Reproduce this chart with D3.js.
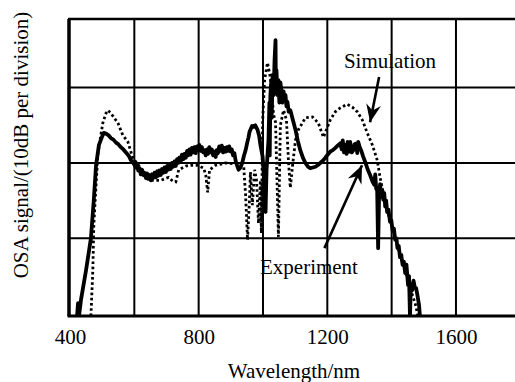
<!DOCTYPE html>
<html>
<head>
<meta charset="utf-8">
<script src="https://cdn.jsdelivr.net/npm/d3@7"></script>
<style>
  html, body { margin: 0; padding: 0; background: #fff; }
  svg { display: block; }
  text { font-family: "Liberation Serif", "Times New Roman", serif; fill: #000; }
</style>
</head>
<body>
<svg id="chart" width="515" height="382"></svg>
<script>
// Axis ticks and reference levels
const wavelengthTicks = [400, 800, 1200, 1600];
const gridWavelengths = [600, 800, 1000, 1200, 1400, 1600, 1800];
const gridLevels = [-30, -20, -10];

// Measured spectrum (wavelength in nm, level in dB)
const experimentNm = [422,425,428,434,450,465,474,481,490,499,505,512,519,527,535,543,550,558,566,574,582,589,597,605,609,612,616,620,624,628,632,636,640,643,647,651,655,659,663,667,671,674,678,682,686,690,694,698,702,705,709,713,717,721,725,729,733,736,740,744,748,752,756,760,764,767,771,775,779,783,787,791,795,798,802,806,810,814,818,822,826,829,833,837,841,845,849,853,856,860,864,868,872,876,880,884,888,891,895,899,903,907,911,915,920,924,930,936,941,946,951,955,958,961,966,971,976,983,988,992,999,1005,1008,1011,1014,1017,1020,1021,1023,1026,1027,1030,1033,1036,1039,1040,1042,1045,1048,1051,1054,1057,1060,1064,1067,1070,1073,1076,1080,1085,1093,1101,1108,1116,1124,1132,1140,1147,1155,1163,1170,1178,1186,1194,1201,1209,1217,1225,1232,1240,1245,1248,1252,1256,1260,1263,1267,1271,1276,1281,1285,1290,1293,1296,1300,1305,1311,1318,1325,1333,1340,1346,1349,1352,1355,1358,1361,1364,1368,1371,1374,1377,1380,1383,1386,1390,1395,1399,1403,1407,1411,1415,1418,1422,1426,1430,1434,1438,1442,1446,1451,1454,1457,1460,1464,1468,1472,1476,1480,1485,1488];
const experimentDb = [-40.3,-38.6,-40.3,-38.2,-34.2,-30.0,-24.9,-20.3,-17.6,-16.6,-16.0,-16.1,-16.3,-16.7,-16.9,-17.3,-17.5,-17.9,-18.2,-18.6,-19.0,-19.6,-20.0,-20.6,-20.2,-21.0,-20.7,-21.5,-20.9,-21.6,-21.3,-22.0,-21.4,-22.1,-21.6,-22.3,-21.5,-22.0,-21.3,-21.9,-21.1,-21.7,-21.0,-21.6,-20.8,-21.3,-20.6,-21.2,-20.4,-20.9,-20.2,-20.8,-20.0,-20.5,-19.8,-20.4,-19.5,-20.0,-19.3,-19.8,-18.9,-19.5,-18.8,-19.3,-18.4,-19.0,-18.2,-18.9,-18.0,-18.6,-17.9,-18.7,-17.8,-18.3,-17.6,-18.4,-17.9,-18.6,-18.3,-19.0,-18.2,-18.8,-17.9,-18.6,-18.2,-19.0,-18.5,-19.2,-18.3,-18.7,-17.8,-18.4,-17.7,-18.6,-18.0,-18.5,-17.9,-18.4,-17.8,-18.5,-18.2,-19.0,-18.7,-19.7,-20.4,-20.9,-20.6,-19.9,-19.0,-18.3,-17.3,-16.6,-15.9,-15.6,-15.1,-15.2,-15.0,-15.6,-16.4,-17.6,-19.2,-23.6,-26.5,-20.9,-19.0,-17.0,-12.0,-19.0,-11.0,-9.0,-14.0,-8.3,-11.0,-6.3,-3.7,-10.0,-7.7,-11.0,-9.0,-12.0,-9.3,-10.3,-12.0,-10.5,-11.5,-11.0,-12.5,-11.9,-13.2,-13.0,-14.3,-15.6,-17.0,-18.3,-19.3,-20.0,-20.5,-20.7,-20.6,-20.5,-20.3,-20.0,-19.7,-19.3,-18.9,-18.5,-18.3,-18.0,-17.7,-17.4,-18.2,-17.0,-18.6,-17.6,-18.8,-17.2,-18.5,-17.2,-18.6,-18.3,-17.5,-17.4,-18.7,-17.2,-17.8,-18.3,-19.1,-19.9,-20.8,-21.6,-22.4,-22.9,-21.5,-23.4,-23.6,-31.3,-24.2,-22.8,-24.5,-23.6,-24.9,-24.0,-25.8,-25.0,-26.5,-26.2,-27.8,-27.6,-29.0,-28.7,-30.2,-30.0,-31.3,-31.0,-32.5,-32.2,-33.5,-33.1,-34.6,-33.5,-36.2,-35.0,-40.3,-36.0,-36.9,-35.6,-36.5,-36.6,-37.5,-38.8,-40.3];

// Simulated spectrum (wavelength in nm, level in dB)
const simulationNm = [465,471,474,481,487,502,512,518,527,549,564,580,595,620,636,651,682,707,719,729,738,760,775,797,816,822,828,834,853,884,915,940,946,952,958,961,967,974,980,986,992,995,999,1005,1014,1023,1033,1039,1048,1054,1064,1073,1079,1085,1092,1101,1110,1132,1154,1172,1188,1209,1225,1240,1262,1278,1293,1309,1324,1340,1355,1364,1374,1386,1395,1411,1426,1442,1457,1473,1482];
const simulationDb = [-40.3,-34.2,-28.2,-22.9,-18.7,-14.7,-13.4,-13.0,-13.4,-14.7,-16.3,-17.2,-19.3,-20.7,-21.7,-22.3,-22.3,-21.9,-22.4,-22.5,-20.9,-20.4,-20.3,-20.3,-20.7,-21.6,-23.9,-20.9,-20.3,-20.0,-20.1,-20.4,-24.3,-30.2,-24.9,-21.2,-25.6,-20.9,-22.3,-28.0,-22.3,-29.3,-14.3,-9.0,-6.7,-8.7,-13.6,-14.6,-29.8,-15.0,-13.0,-14.3,-19.6,-23.3,-20.3,-17.0,-15.6,-14.0,-13.9,-14.7,-16.6,-14.3,-13.2,-12.7,-12.2,-12.6,-13.2,-14.3,-16.0,-17.6,-19.6,-21.9,-24.0,-26.2,-27.6,-29.8,-32.2,-34.2,-36.6,-38.6,-40.3];

// Callout labels: text, label anchor and arrow (from -> tip), in data units
const calloutText = ["Simulation", "Experiment"];
const calloutLabelNm = [1395, 1143];
const calloutLabelDb = [-7.4, -34.7];
const arrowFromNm = [1361, 1191];
const arrowFromDb = [-8.6, -31.3];
const arrowTipNm = [1333, 1308];
const arrowTipDb = [-14.6, -20.3];

const svg = d3.select("#chart");
const W = 515, H = 382;

const x = d3.scaleLinear().domain([400, 1800]).range([70, 520.3]);
const y = d3.scaleLinear().domain([-40.3, -0.9]).range([316, 19]);

const plotLeft = x(400) - 1, plotRight = x(1800), plotTop = y(-0.9), plotBottom = y(-40.3);

svg.append("rect").attr("width", W).attr("height", H).attr("fill", "#fff");

// Grid
const grid = svg.append("g").attr("stroke", "#000").attr("stroke-width", 2);
grid.selectAll("line.v").data(gridWavelengths).join("line")
  .attr("x1", d => x(d)).attr("x2", d => x(d))
  .attr("y1", plotTop).attr("y2", plotBottom);
grid.selectAll("line.h").data(gridLevels).join("line")
  .attr("x1", plotLeft).attr("x2", plotRight)
  .attr("y1", d => y(d)).attr("y2", d => y(d));

// Curves
svg.append("clipPath").attr("id", "plotClip").append("rect")
  .attr("x", plotLeft).attr("y", plotTop)
  .attr("width", plotRight - plotLeft).attr("height", plotBottom - plotTop);

const line = d3.line().x(d => x(d[0])).y(d => y(d[1]));
const simPts = simulationNm.map((n, i) => [n, simulationDb[i]]);
const expPts = experimentNm.map((n, i) => [n, experimentDb[i]]);

const curves = svg.append("g").attr("clip-path", "url(#plotClip)");
curves.append("path").datum(simPts)
  .attr("d", line).attr("fill", "none").attr("stroke", "#000")
  .attr("stroke-width", 2.8).attr("stroke-dasharray", "2.6,2.6");
curves.append("path").datum(expPts)
  .attr("d", line).attr("fill", "none").attr("stroke", "#000")
  .attr("stroke-width", 3.8).attr("stroke-linejoin", "round");

// Frame
const frame = svg.append("g").attr("stroke", "#000").attr("fill", "none");
frame.append("line").attr("x1", plotLeft - 1).attr("x2", plotRight)
  .attr("y1", plotTop).attr("y2", plotTop).attr("stroke-width", 2.5);
frame.append("line").attr("x1", plotLeft).attr("x2", plotLeft)
  .attr("y1", plotTop).attr("y2", plotBottom).attr("stroke-width", 3.5);

// Bottom axis with wavelength labels
const xAxis = d3.axisBottom(x).tickValues(wavelengthTicks).tickSize(0).tickPadding(13)
  .tickFormat(d3.format("d"));
const gx = svg.append("g").attr("transform", `translate(0,${plotBottom})`).call(xAxis);
gx.select(".domain").remove();
gx.selectAll("text").attr("font-size", 21).attr("font-family", "Liberation Serif, serif");
svg.append("line").attr("x1", plotLeft - 1.5).attr("x2", plotRight)
  .attr("y1", plotBottom).attr("y2", plotBottom)
  .attr("stroke", "#000").attr("stroke-width", 3.2);

// Axis titles
svg.append("text").attr("x", 294).attr("y", 378).attr("text-anchor", "middle")
  .attr("font-size", 21).text("Wavelength/nm");
svg.append("text").attr("transform", "translate(28,145) rotate(-90)")
  .attr("text-anchor", "middle").attr("font-size", 21)
  .text("OSA signal/(10dB per division)");

// Callouts
svg.append("defs").append("marker")
  .attr("id", "head").attr("markerUnits", "userSpaceOnUse")
  .attr("viewBox", "-20 -10 22 20").attr("refX", 0).attr("refY", 0)
  .attr("markerWidth", 22).attr("markerHeight", 20).attr("orient", "auto")
  .append("path").attr("d", "M0,0 L-18,-7.5 L-12,0 L-18,7.5 Z").attr("fill", "#000");

calloutText.forEach((t, i) => {
  svg.append("line")
    .attr("x1", x(arrowFromNm[i])).attr("y1", y(arrowFromDb[i]))
    .attr("x2", x(arrowTipNm[i])).attr("y2", y(arrowTipDb[i]))
    .attr("stroke", "#000").attr("stroke-width", 2.6)
    .attr("marker-end", "url(#head)");
  svg.append("text").attr("x", x(calloutLabelNm[i])).attr("y", y(calloutLabelDb[i]))
    .attr("text-anchor", "middle").attr("font-size", 21).text(t);
});
</script>
</body>
</html>
